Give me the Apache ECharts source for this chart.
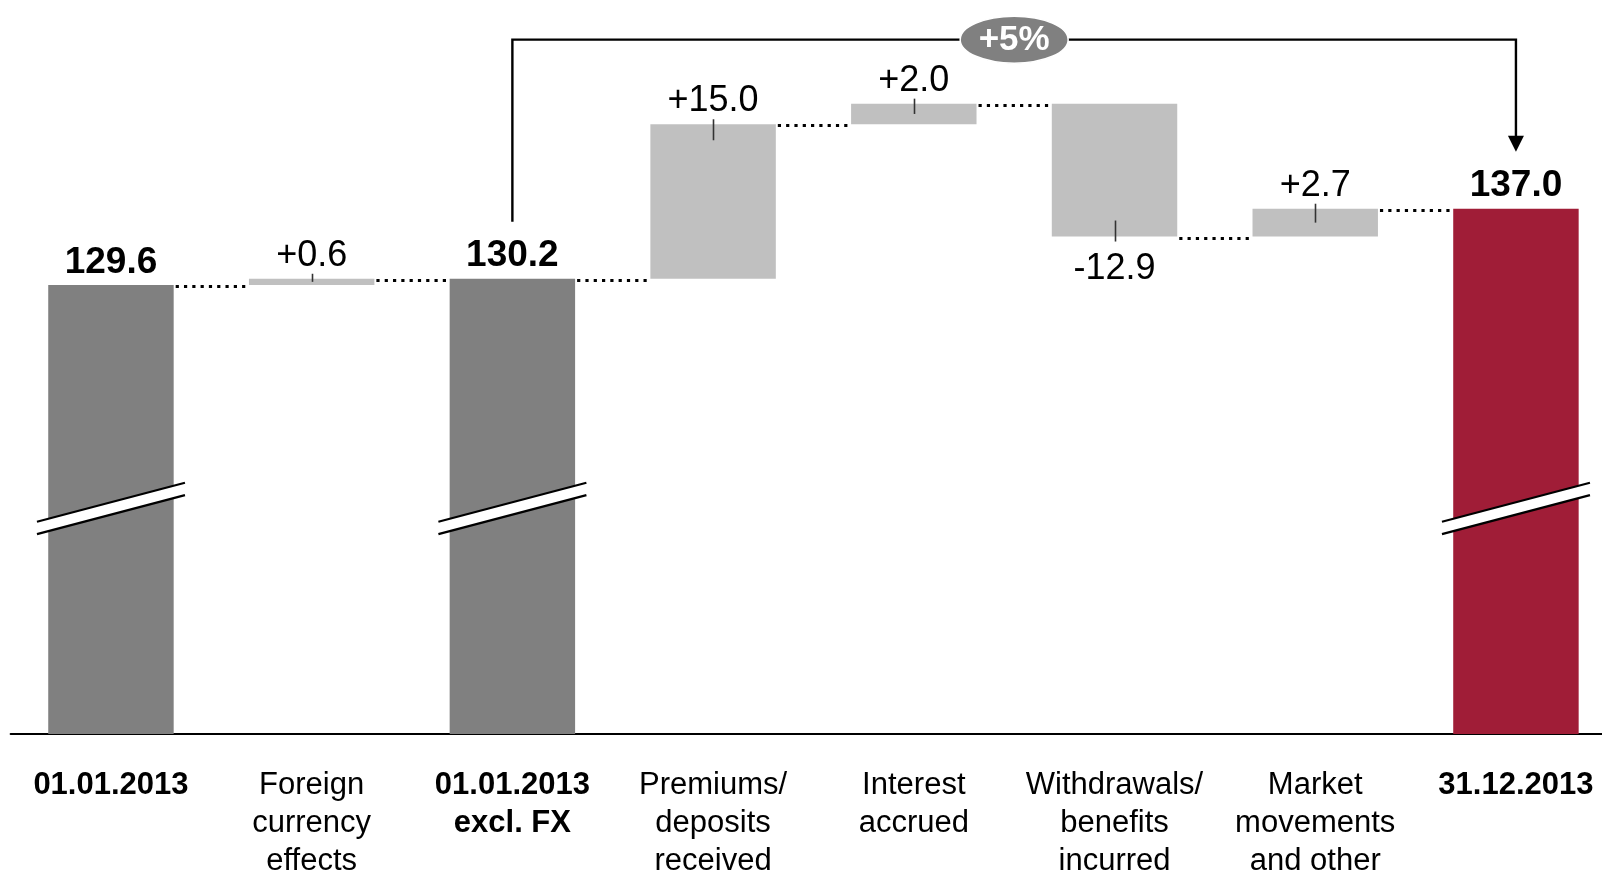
<!DOCTYPE html>
<html>
<head>
<meta charset="utf-8">
<script src="https://cdn.jsdelivr.net/npm/echarts@6/dist/echarts.min.js"></script>
<style>
  html, body { margin: 0; padding: 0; background: #ffffff; }
  #chart { width: 1602px; height: 873px; }
</style>
</head>
<body>
<div id="chart"></div>
<script>
// Reserves development 2013 (EUR bn)
const categories = [
  '01.01.2013',
  'Foreign\ncurrency\neffects',
  '01.01.2013\nexcl. FX',
  'Premiums/\ndeposits\nreceived',
  'Interest\naccrued',
  'Withdrawals/\nbenefits\nincurred',
  'Market\nmovements\nand other',
  '31.12.2013'
];
const values = [129.6, 0.6, 130.2, 15.0, 2.0, -12.9, 2.7, 137.0];
const isTotal = [true, false, true, false, false, false, false, true];
// Bracket from the FX-adjusted opening balance to the closing balance
const growthFrom = 2;
const growthTo = 7;

const FONT = '"Liberation Sans", Arial, Helvetica, sans-serif';
const DARK = '#808080';
const LIGHT = '#c0c0c0';
const RED = '#a01d37';
const AXIS_MIN = 86;
const AXIS_MAX = 156.1;
const BREAK_AT = 107.9;

// Waterfall geometry: low/high of every bar and running level after it
const lows = [], highs = [], levels = [];
let running = 0;
values.forEach((v, i) => {
  if (isTotal[i]) {
    lows.push(0); highs.push(v); running = v;
  } else {
    lows.push(Math.min(running, running + v));
    highs.push(Math.max(running, running + v));
    running = running + v;
  }
  levels.push(running);
});

const fmt = (v, i) => isTotal[i] ? v.toFixed(1) : (v > 0 ? '+' : '') + v.toFixed(1);
const lastIdx = values.length - 1;
const growthPct = Math.round((values[growthTo] / values[growthFrom] - 1) * 100);
const growthText = (growthPct >= 0 ? '+' : '') + growthPct + '%';

const placeholder = values.map((v, i) => isTotal[i] ? 0 : lows[i]);
const visible = values.map((v, i) => ({
  value: isTotal[i] ? v : Math.abs(v),
  itemStyle: { color: isTotal[i] ? (i === lastIdx ? RED : DARK) : LIGHT },
  label: {
    show: true,
    position: v < 0 ? 'bottom' : 'top',
    distance: v < 0 ? 15 : (isTotal[i] ? 4 : 5),
    fontWeight: isTotal[i] ? 'bold' : 'normal',
    fontSize: isTotal[i] ? 37 : 36,
    formatter: () => fmt(v, i)
  }
}));

const BAR_RATIO = 0.625;

const chart = echarts.init(document.getElementById('chart'), null, { renderer: 'canvas' });

chart.setOption({
  animation: false,
  backgroundColor: '#ffffff',
  grid: { left: 10.6, right: -14.3, top: 12, bottom: 139, outerBoundsMode: 'none' },
  xAxis: {
    type: 'category',
    data: categories,
    axisLine: { show: true, lineStyle: { color: '#000', width: 2 } },
    axisTick: { show: false },
    axisLabel: {
      interval: 0,
      margin: 32,
      fontFamily: FONT,
      fontSize: 31,
      lineHeight: 38,
      color: '#000',
      formatter: (val, idx) => {
        const tag = isTotal[idx] ? 'b' : 'n';
        return val.split('\n').map(s => '{' + tag + '|' + s + '}').join('\n');
      },
      rich: {
        b: { fontFamily: FONT, fontSize: 31, lineHeight: 38, fontWeight: 'bold', color: '#000' },
        n: { fontFamily: FONT, fontSize: 31, lineHeight: 38, color: '#000' }
      }
    }
  },
  yAxis: {
    type: 'value', min: AXIS_MIN, max: AXIS_MAX, show: false,
    splitLine: { show: false }
  },
  textStyle: { fontFamily: FONT },
  series: [
    {
      name: 'base', type: 'bar', stack: 'wf',
      barWidth: (BAR_RATIO * 100) + '%',
      itemStyle: { color: 'rgba(0,0,0,0)' },
      emphasis: { disabled: true },
      data: placeholder
    },
    {
      name: 'value', type: 'bar', stack: 'wf',
      barWidth: (BAR_RATIO * 100) + '%',
      label: { color: '#000', fontFamily: FONT },
      emphasis: { disabled: true },
      data: visible
    },
    // Dotted connectors between neighbouring bars
    {
      type: 'custom', z: 5, silent: true,
      data: levels.slice(0, -1).map((lv, i) => [i, lv]),
      renderItem: (params, api) => {
        const i = api.value(0);
        const p = api.coord([i, api.value(1)]);
        const q = api.coord([i + 1, api.value(1)]);
        const half = api.size([1, 0])[0] * BAR_RATIO / 2;
        const y = Math.round(p[1]) + 1.5;
        return {
          type: 'line',
          shape: { x1: p[0] + half + 2, y1: y, x2: q[0] - half - 1, y2: y },
          style: { stroke: '#000', lineWidth: 3.2, lineDash: [3.2, 5.1] }
        };
      }
    },
    // Leader ticks from the change labels into the bars
    {
      type: 'custom', z: 6, silent: true,
      data: values.map((v, i) => [i, v]).filter((d, i) => !isTotal[i]),
      renderItem: (params, api) => {
        const i = api.value(0);
        const v = api.value(1);
        const top = api.coord([i, highs[i]])[1];
        const bottom = api.coord([i, lows[i]])[1];
        const x = Math.round(api.coord([i, highs[i]])[0]) + 0.5;
        const inside = Math.min(16, (bottom - top) / 2);
        const shape = v >= 0
          ? { x1: x, y1: top - 5, x2: x, y2: top + inside }
          : { x1: x, y1: bottom + 5, x2: x, y2: bottom - inside };
        return { type: 'line', shape, style: { stroke: '#333', lineWidth: 1.6 } };
      }
    },
    // Axis-break marks across the balance bars
    {
      type: 'custom', z: 7, silent: true,
      data: values.map((v, i) => [i, BREAK_AT]).filter((d, i) => isTotal[i]),
      renderItem: (params, api) => {
        const c = api.coord([api.value(0), api.value(1)]);
        const dx = 74, dy = 19.5, gap = 12.3;
        const x1 = c[0] - dx, x2 = c[0] + dx;
        const yt1 = c[1] - gap / 2 + dy, yt2 = c[1] - gap / 2 - dy;
        return {
          type: 'group',
          children: [
            { type: 'polygon', shape: { points: [[x1, yt1], [x2, yt2], [x2, yt2 + gap], [x1, yt1 + gap]] },
              style: { fill: '#fff' } },
            { type: 'line', shape: { x1, y1: yt1, x2, y2: yt2 }, style: { stroke: '#000', lineWidth: 2.2 } },
            { type: 'line', shape: { x1, y1: yt1 + gap, x2, y2: yt2 + gap }, style: { stroke: '#000', lineWidth: 2.2 } }
          ]
        };
      }
    },
    // Growth bracket with arrow and percentage badge
    {
      type: 'custom', z: 8, silent: true,
      data: [[growthFrom, growthTo]],
      renderItem: (params, api) => {
        const a = api.coord([api.value(0), values[growthFrom]]);
        const b = api.coord([api.value(1), values[growthTo]]);
        const peak = api.coord([0, Math.max(...highs)])[1];
        const yB = peak - 64;
        const legA = a[1] - 57;
        const tip = b[1] - 57;
        const mx = (a[0] + b[0]) / 2;
        return {
          type: 'group',
          children: [
            { type: 'polyline', shape: { points: [[a[0], legA], [a[0], yB], [b[0], yB], [b[0], tip - 14]] },
              style: { stroke: '#000', lineWidth: 2.4, fill: null } },
            { type: 'polygon', shape: { points: [[b[0] - 8, tip - 16], [b[0] + 8, tip - 16], [b[0], tip]] },
              style: { fill: '#000' } },
            { type: 'ellipse', shape: { cx: mx, cy: yB, rx: 54, ry: 23.5 },
              style: { fill: DARK, stroke: '#fff', lineWidth: 1.5 } },
            { type: 'text', x: mx, y: yB + 1,
              style: { text: growthText, fill: '#fff', font: 'bold 35px ' + FONT, align: 'center', verticalAlign: 'middle' } }
          ]
        };
      }
    }
  ]
});
</script>
</body>
</html>
